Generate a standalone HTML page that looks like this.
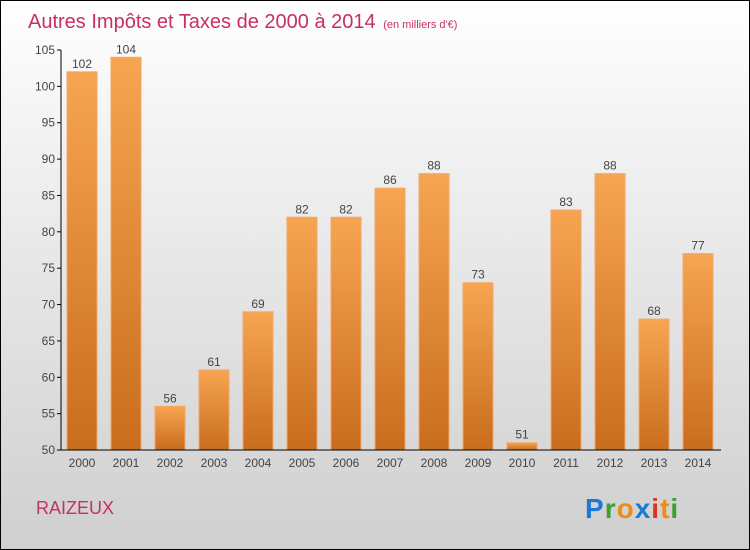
<!DOCTYPE html>
<html><head><meta charset="utf-8"><style>
body{margin:0;}
#c{width:748px;height:548px;border:1px solid #000;background:linear-gradient(#fff,#f2f2f2 25%,#cfcfcf);position:relative;overflow:hidden;font-family:"Liberation Sans",sans-serif;}
</style></head><body>
<div id="c">
<svg width="748" height="548" id="svg">
<defs><linearGradient id="bg" x1="0" y1="0" x2="0" y2="1"><stop offset="0" stop-color="#f7a552"/><stop offset="1" stop-color="#c86d1d"/></linearGradient></defs>
<text x="27" y="27" font-size="20" fill="#c8305e">Autres Impôts et Taxes de 2000 à 2014 <tspan font-size="11" dx="2">(en milliers d'€)</tspan></text>
<text x="35" y="513" font-size="18" fill="#c8305e">RAIZEUX</text>
<g font-size="28" font-weight="bold" font-family="'Liberation Sans',sans-serif">
<text x="584" y="517" letter-spacing="1"><tspan fill="#1a7ad8">P</tspan><tspan fill="#3aa030">r</tspan><tspan fill="#f08a10">o</tspan><tspan fill="#1a7ad8">x</tspan><tspan fill="#e03020">i</tspan><tspan fill="#f08a10">t</tspan><tspan fill="#3aa030">i</tspan></text></g>
<g id="g"></g>
</svg></div>
<script>
const years=["2000","2001","2002","2003","2004","2005","2006","2007","2008","2009","2010","2011","2012","2013","2014"];
const values=[102,104,56,61,69,82,82,86,88,73,51,83,88,68,77];
const yTicks=[50,55,60,65,70,75,80,85,90,95,100,105];
const ns="http://www.w3.org/2000/svg",g=document.getElementById('g');
const y=v=>449-(v-50)*400/55, x=i=>81+i*44;
function el(t,a,txt){const e=document.createElementNS(ns,t);for(const k in a)e.setAttribute(k,a[k]);if(txt!==undefined)e.textContent=txt;g.appendChild(e);return e;}
yTicks.forEach(t=>{
 const l=el('line',{x1:56,x2:60,y1:y(t),y2:y(t),stroke:'#000'});
 
 
 const tx=el('text',{x:54,y:y(t)+4,'font-size':12,'text-anchor':'end',fill:'#444'},t);
 
 
});
values.forEach((v,i)=>{
 const r=el('rect',{x:x(i)-15,y:y(v),width:30,height:y(50)-y(v),fill:'url(#bg)',stroke:'#f5a860','stroke-width':1});
 
 
 const lb=el('text',{x:x(i),y:y(v)-4,'font-size':12,'text-anchor':'middle',fill:'#444'},v);
 
 
 const xl=el('text',{x:x(i),y:466,'font-size':12,'text-anchor':'middle',fill:'#444'},years[i]);
 
 
});
const ya=el('line',{x1:60,x2:60,y1:y(105),y2:y(50),stroke:'#000'});


const xa=el('line',{x1:60,x2:720,y1:y(50),y2:y(50),stroke:'#000'});


</script>
</body></html>
